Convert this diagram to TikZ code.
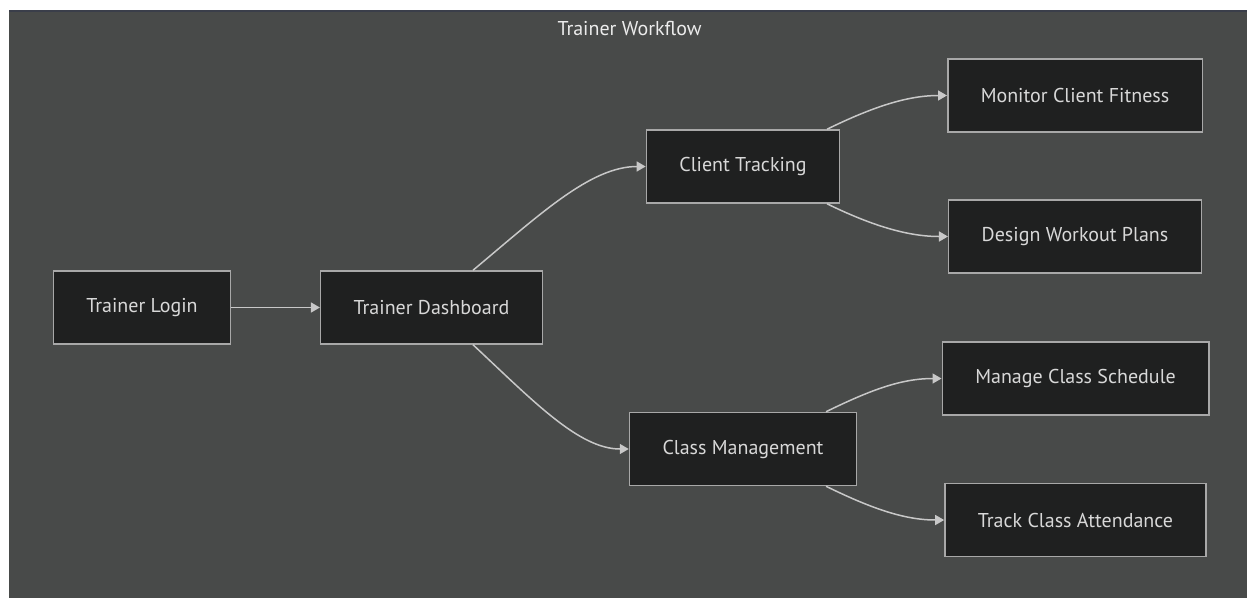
\documentclass[tikz,border=0pt]{standalone}
\usepackage{fontspec}
\setmainfont{PT Sans}
\usepackage{xcolor}
\usepackage{tikz}
\usetikzlibrary{shapes.geometric, arrows.meta, positioning}
\definecolor{CanvasGray}{HTML}{484A49}
\definecolor{CanvasEdge}{HTML}{3A3E4A}
\definecolor{BoxFill}{HTML}{1F2020}
\definecolor{BoxLine}{HTML}{A8A8A8}
\definecolor{BoxText}{HTML}{D8D8D8}
\definecolor{FlowLine}{HTML}{C8C8C8}
\definecolor{TitleText}{HTML}{ECECEC}

\begin{document}
\begin{tikzpicture}[x=1pt, y=-1pt, node distance=289.5pt, font=\fontsize{20}{24}\selectfont]
    \tikzstyle{stepbox} = [rectangle, minimum height=73pt, inner xsep=33pt, text centered, draw=BoxLine, line width=1.5pt, fill=BoxFill, text=BoxText]
    \tikzstyle{arrow} = [line width=1.5pt, draw=FlowLine, -{Triangle[length=9pt,width=10pt]}]

    % canvas
    \useasboundingbox (0,0) rectangle (1247,598);
    \fill [CanvasGray] (9,10) rectangle (1247,598);
    \draw [CanvasEdge, line width=1.5pt] (9,10.75) -- (1247,10.75);

    \node (title) [text=TitleText] at (629.5,28) {Trainer Workflow};

    \node (login) [stepbox] at (142,307.5) {Trainer Login};
    \node (dash) [stepbox, right of=login] {Trainer Dashboard};
    \node (client) [stepbox, right of=dash, xshift=22pt, yshift=141pt] {Client Tracking};
    \node (classes) [stepbox, right of=dash, xshift=22pt, yshift=-141.5pt] {Class Management};
    \node (monitor) [stepbox, right of=client, xshift=42.5pt, yshift=71pt] {Monitor Client Fitness};
    \node (plans) [stepbox, right of=client, xshift=42.5pt, yshift=-70pt] {Design Workout Plans};
    \node (schedule) [stepbox, right of=classes, xshift=43pt, yshift=70.5pt] {Manage Class Schedule};
    \node (attend) [stepbox, right of=classes, xshift=43pt, yshift=-71pt] {Track Class Attendance};

    \draw [arrow] (login) -- (dash);
    \draw [arrow] ([xshift=41.5pt]dash.north) .. controls +(67,-56) and +(-55,0) .. (client.west);
    \draw [arrow] ([xshift=41.5pt]dash.south) .. controls +(60,56) and +(-50,0) .. (classes.west);
    \draw [arrow] ([xshift=84pt]client.north) .. controls +(45,-22) and +(-40,0) .. (monitor.west);
    \draw [arrow] ([xshift=84pt]client.south) .. controls +(45,22) and +(-40,0) .. (plans.west);
    \draw [arrow] ([xshift=83pt]classes.north) .. controls +(45,-22) and +(-40,0) .. (schedule.west);
    \draw [arrow] ([xshift=83pt]classes.south) .. controls +(45,22) and +(-40,0) .. (attend.west);

\end{tikzpicture}
\end{document}
